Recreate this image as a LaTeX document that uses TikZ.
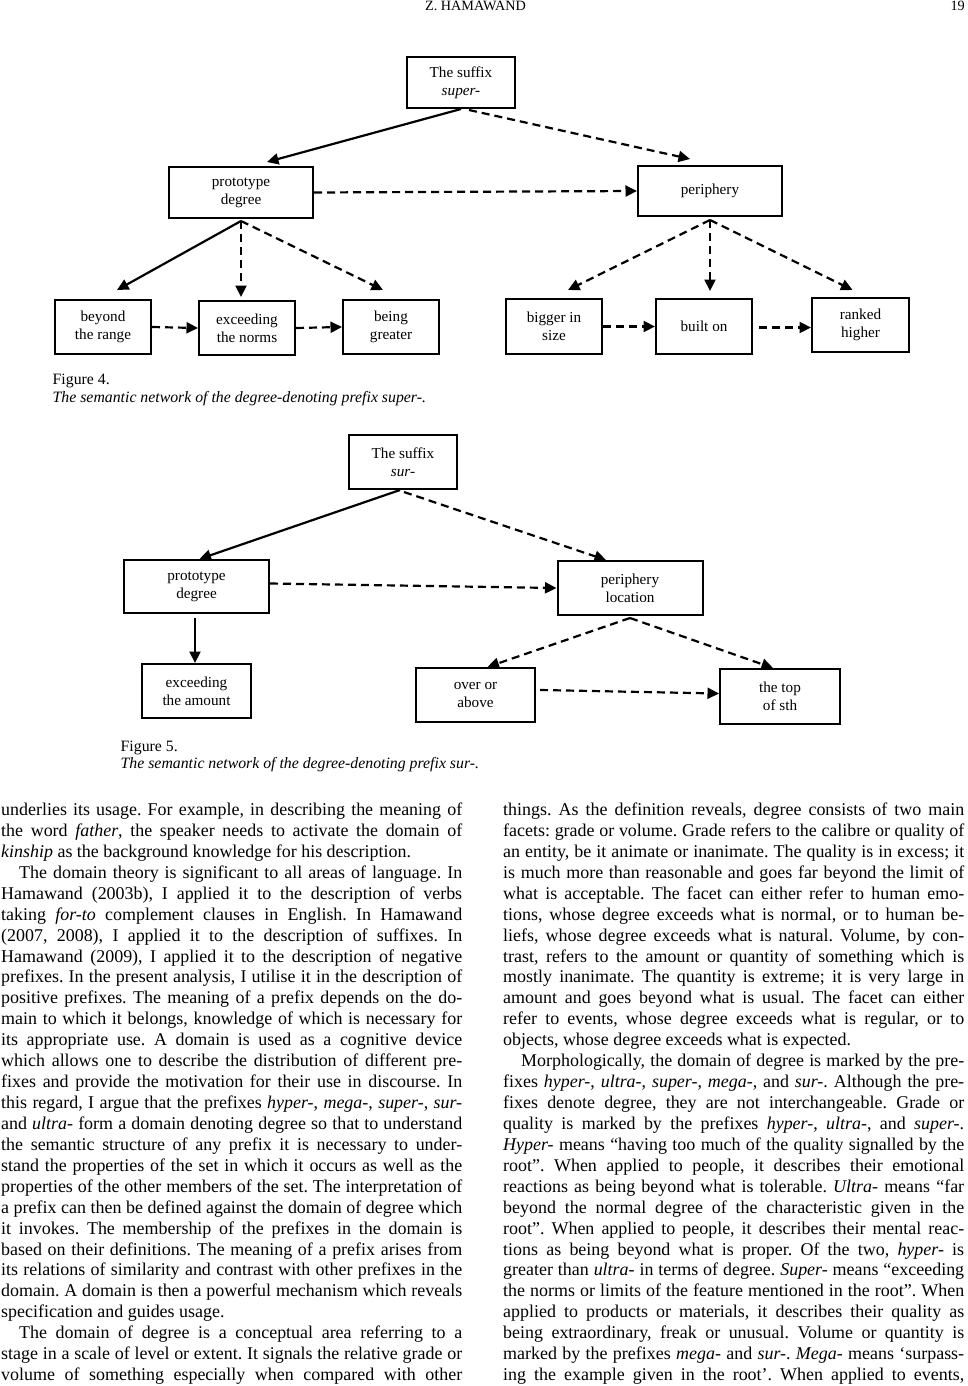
\documentclass[tikz,border=0pt]{standalone}
\usepackage{fontspec}
\setmainfont{Liberation Serif}
\usetikzlibrary{arrows.meta,calc}
\frenchspacing
\newcommand\jline[1]{\hbox to 461pt{#1}}
\newcommand\lline[1]{\hbox{#1}}
\newcommand\bodyfont{\fontsize{17.95}{20.93}\selectfont}
\tikzset{
  box/.style={draw, line width=2pt, rectangle, inner sep=0pt, align=center,
    font=\fontsize{15.2}{18}\selectfont},
  sarr/.style={line width=2.2pt, -{Triangle[length=11.5pt,width=11pt]}},
  darr/.style={line width=2.2pt, dash pattern=on 8pt off 5pt, -{Triangle[length=11.5pt,width=11pt]}},
  txt/.style={inner sep=0pt, anchor=base west}
}
\begin{document}
\begin{tikzpicture}[x=1pt,y=-1pt]
\useasboundingbox (0,0) rectangle (967,1386);
\fill[white] (0,0) rectangle (967,1386);

% header
\node[txt, font=\fontsize{14.2}{16}\selectfont] (hd) at (425,10.5) {Z. HAMAWAND};
\node[inner sep=0pt, anchor=base east, font=\fontsize{14.2}{16}\selectfont] (pg) at (965,10.5) {19};

% ---------- Figure 4 ----------
\node[box, minimum width=108pt, minimum height=51pt] (s4) at (461,82.5) {The suffix\\\textit{super-}};
\node[box, minimum width=144pt, minimum height=51pt] (p4) at (241,192.5) {prototype\\degree};
\node[box, minimum width=144pt, minimum height=50pt] (r4) at (710,191) {\raisebox{-1pt}{periphery}};
\node[box, minimum width=96pt, minimum height=54pt] (a4) at (103,327) {beyond\\the range};
\node[box, minimum width=96pt, minimum height=54pt] (b4) at (247,328) {exceeding\\the norms};
\node[box, minimum width=96pt, minimum height=54pt] (c4) at (391,327) {being\\greater};
\node[box, minimum width=96pt, minimum height=55pt] (d4) at (554,326.5) {bigger in\\size};
\node[box, minimum width=96pt, minimum height=55pt] (e4) at (704,326.5) {built on};
\node[box, minimum width=97pt, minimum height=54pt] (f4) at (860.5,325) {ranked\\higher};

\draw[sarr] (s4.south) -- ($(p4.north)+(26,-4)$);
\draw[darr] ($(s4.south)+(8,1)$) -- ($(r4.north)+(-20,-6)$);
\draw[darr] (p4.east) -- (r4.west);
\draw[sarr] ($(p4.south)+(0,2)$) -- ($(a4.north)+(14,-9)$);
\draw[darr] ($(p4.south)+(0,2)$) -- ($(b4.north)+(-6,-3)$);
\draw[darr] ($(p4.south)+(0,2)$) -- ($(c4.north)+(-8,-9)$);
\draw[darr] (a4.east) -- (b4.west);
\draw[darr] (b4.east) -- (c4.west);
\draw[darr] ($(r4.south)+(0,3)$) -- ($(d4.north)+(14,-8)$);
\draw[darr] ($(r4.south)+(0,3)$) -- ($(e4.north)+(6,-7)$);
\draw[darr] ($(r4.south)+(0,3)$) -- ($(f4.north)+(-8,-7)$);
\draw[darr] (d4.east) -- (e4.west);
\draw[darr] ($(e4.east)+(6,1)$) -- ($(f4.west)+(0,2.5)$);

\node[txt, font=\fontsize{15.8}{18}\selectfont] (cap4a) at (52.5,384) {Figure 4.};
\node[txt, font=\fontsize{15.8}{18}\selectfont\itshape] (cap4b) at (52.5,402) {The semantic network of the degree-denoting prefix super-.};

% ---------- Figure 5 ----------
\node[box, minimum width=108pt, minimum height=54pt] (s5) at (403,462) {The suffix\\\textit{sur-}};
\node[box, minimum width=145pt, minimum height=53pt] (p5) at (196.5,586.5) {prototype\\degree};
\node[box, minimum width=145pt, minimum height=54pt] (q5) at (630,588) {periphery\\location};
\node[box, minimum width=109pt, minimum height=54pt] (a5) at (196.5,691) {exceeding\\the amount};
\node[box, minimum width=119pt, minimum height=54pt] (b5) at (475.5,695) {over or\\above};
\node[box, minimum width=120pt, minimum height=55pt] (c5) at (780,696.5) {the top\\of sth};

\draw[sarr] ($(s5.south)+(-3,0)$) -- ($(p5.north)+(3,0)$);
\draw[darr] ($(s5.south)+(1,2)$) -- ($(q5.north)+(-24,0)$);
\draw[darr] ($(p5.east)+(0,-3)$) -- (q5.west);
\draw[sarr] ($(p5.south)+(-1.5,4)$) -- ($(a5.north)+(-1.5,0)$);
\draw[darr] ($(q5.south)+(0,2)$) -- ($(b5.north)+(12,0)$);
\draw[darr] ($(q5.south)+(0,2)$) -- ($(c5.north)+(-7,0)$);
\draw[darr] ($(b5.east)+(4,-5)$) -- ($(c5.west)+(0,-3)$);

\node[txt, font=\fontsize{15.8}{18}\selectfont] (cap5a) at (120.5,751) {Figure 5.};
\node[txt, font=\fontsize{15.8}{18}\selectfont\itshape] (cap5b) at (120.5,768.5) {The semantic network of the degree-denoting prefix sur-.};

% ---------- body text ----------
\node[txt, font=\bodyfont] (colL) at (1,815.5) {\vtop{\baselineskip=20.93pt\lineskiplimit=-100pt
\jline{underlies its usage. For example, in describing the meaning of}
\jline{the word \textit{father}, the speaker needs to activate the domain of}
\lline{\textit{kinship} as the background knowledge for his description.}
\jline{\hskip18pt The domain theory is significant to all areas of language. In}
\jline{Hamawand (2003b), I applied it to the description of verbs}
\jline{taking \textit{for-to} complement clauses in English. In Hamawand}
\jline{(2007, 2008), I applied it to the description of suffixes. In}
\jline{Hamawand (2009), I applied it to the description of negative}
\jline{prefixes. In the present analysis, I utilise it in the description of}
\jline{positive prefixes. The meaning of a prefix depends on the do-}
\jline{main to which it belongs, knowledge of which is necessary for}
\jline{its appropriate use. A domain is used as a cognitive device}
\jline{which allows one to describe the distribution of different pre-}
\jline{fixes and provide the motivation for their use in discourse. In}
\jline{this regard, I argue that the prefixes \textit{hyper-}, \textit{mega-}, \textit{super-}, \textit{sur-}}
\jline{and \textit{ultra-} form a domain denoting degree so that to understand}
\jline{the semantic structure of any prefix it is necessary to under-}
\jline{stand the properties of the set in which it occurs as well as the}
\jline{properties of the other members of the set. The interpretation of}
\jline{a prefix can then be defined against the domain of degree which}
\jline{it invokes. The membership of the prefixes in the domain is}
\jline{based on their definitions. The meaning of a prefix arises from}
\jline{its relations of similarity and contrast with other prefixes in the}
\jline{domain. A domain is then a powerful mechanism which reveals}
\lline{specification and guides usage.}
\jline{\hskip18pt The domain of degree is a conceptual area referring to a}
\jline{stage in a scale of level or extent. It signals the relative grade or}
\jline{volume of something especially when compared with other}
}};

\node[txt, font=\bodyfont] (colR) at (503,815.5) {\vtop{\baselineskip=20.93pt\lineskiplimit=-100pt
\jline{things. As the definition reveals, degree consists of two main}
\jline{facets: grade or volume. Grade refers to the calibre or quality of}
\jline{an entity, be it animate or inanimate. The quality is in excess; it}
\jline{is much more than reasonable and goes far beyond the limit of}
\jline{what is acceptable. The facet can either refer to human emo-}
\jline{tions, whose degree exceeds what is normal, or to human be-}
\jline{liefs, whose degree exceeds what is natural. Volume, by con-}
\jline{trast, refers to the amount or quantity of something which is}
\jline{mostly inanimate. The quantity is extreme; it is very large in}
\jline{amount and goes beyond what is usual. The facet can either}
\jline{refer to events, whose degree exceeds what is regular, or to}
\lline{objects, whose degree exceeds what is expected.}
\jline{\hskip18pt Morphologically, the domain of degree is marked by the pre-}
\jline{fixes \textit{hyper-}, \textit{ultra-}, \textit{super-}, \textit{mega-}, and \textit{sur-}. Although the pre-}
\jline{fixes denote degree, they are not interchangeable. Grade or}
\jline{quality is marked by the prefixes \textit{hyper-}, \textit{ultra-}, and \textit{super-}.}
\jline{\textit{Hyper-} means “having too much of the quality signalled by the}
\jline{root”. When applied to people, it describes their emotional}
\jline{reactions as being beyond what is tolerable. \textit{Ultra-} means “far}
\jline{beyond the normal degree of the characteristic given in the}
\jline{root”. When applied to people, it describes their mental reac-}
\jline{tions as being beyond what is proper. Of the two, \textit{hyper-} is}
\jline{greater than \textit{ultra-} in terms of degree. \textit{Super-} means “exceeding}
\jline{the norms or limits of the feature mentioned in the root”. When}
\jline{applied to products or materials, it describes their quality as}
\jline{being extraordinary, freak or unusual. Volume or quantity is}
\jline{marked by the prefixes \textit{mega-} and \textit{sur-}. \textit{Mega-} means ‘surpass-}
\jline{ing the example given in the root’. When applied to events,}
}};
\end{tikzpicture}
\end{document}
